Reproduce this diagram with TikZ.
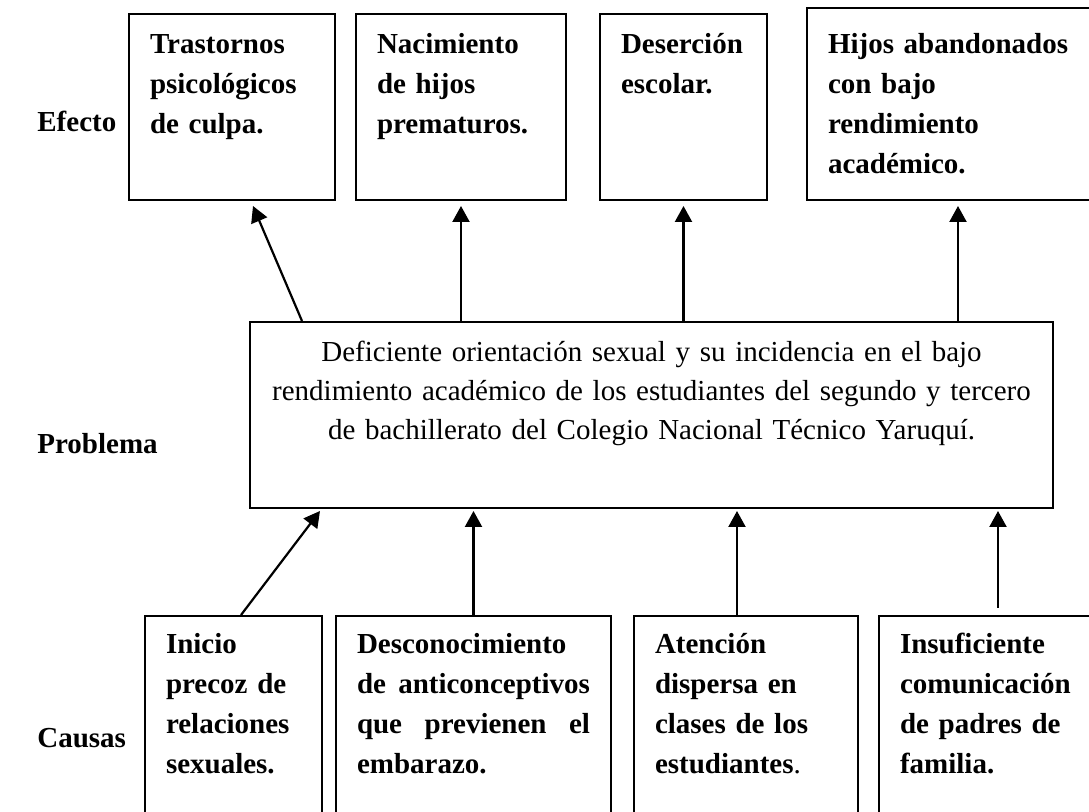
\documentclass[tikz,border=0pt]{standalone}
\usepackage{fontspec}
\setmainfont{Liberation Serif}
\usetikzlibrary{arrows.meta}
\usetikzlibrary{positioning}
\tikzset{effect node/.style={rectangle,draw,line width=1pt,anchor=north west,align=left,
              inner xsep=10.5pt,inner ysep=0pt,text height=20pt,text depth=73pt,
              font=\fontsize{14.5}{20}\selectfont\bfseries},
         problem node/.style={rectangle,draw,line width=1pt,anchor=north west,align=center,
              inner xsep=10pt,inner ysep=0pt,text height=20pt,text depth=73pt,
              font=\fontsize{14.5}{19.5}\selectfont},
         cause node/.style={rectangle,draw,line width=1pt,anchor=north west,align=left,
              inner xsep=10.5pt,inner ysep=0pt,text height=19pt,text depth=101pt,
              font=\fontsize{14.5}{20}\selectfont\bfseries},
         side label/.style={anchor=base west,inner sep=0pt,font=\fontsize{14.5}{20}\selectfont\bfseries},
         arr/.style={draw,line width=1.1pt,-{Triangle[length=8pt,width=8.5pt]}},
            }

\begin{document}
\begin{tikzpicture}[x=1pt,y=-1pt]
    \useasboundingbox (0,0) rectangle (544.5,406);
    \clip (0,0) rectangle (544.5,406);

    % efectos
    \node[effect node,text width=82pt] (t1) at (64,6.5) {Trastornos\\psicológicos\\de culpa.};
    \node[effect node,text width=84pt] (t2) [right=9.5pt of t1] {Nacimiento\\de hijos\\prematuros.};
    \node[effect node,text width=62.5pt] (t3) [right=16pt of t2] {Deserción\\escolar.};
    \node[effect node,text width=130pt,text height=23pt] (t4) [right=19pt of t3.south east,anchor=south west] {Hijos abandonados\\con bajo\\rendimiento\\académico.};

    % problema
    \node[problem node,text width=381.5pt] (m) at (124.5,160.5) {Deficiente orientación sexual y su incidencia en el bajo\\rendimiento académico de los estudiantes del segundo y tercero\\de bachillerato del Colegio Nacional Técnico Yaruquí.};

    % causas
    \node[cause node,text width=67.5pt] (b1) at (72,307.5) {Inicio\\precoz de\\relaciones\\sexuales.};
    \node[cause node,text width=116.5pt] (b2) [right=6pt of b1] {Desconocimiento\\de\hfill anticonceptivos\\que\hfill previenen\hfill el\\embarazo.};
    \node[cause node,text width=91pt] (b3) [right=10.5pt of b2] {Atención\\dispersa en\\clases de los\\estudiantes\textmd{.}};
    \node[cause node,text width=98pt] (b4) [right=9.5pt of b3] {Insuficiente\\comunicación\\de padres de\\familia.};

    \node[side label] (efecto) at (18.5,66) {Efecto};
    \node[side label] (problema) at (18.5,227) {Problema};
    \node[side label] (causas) at (18.5,374) {Causas};

    \path[every edge/.style={arr}]
    ([xshift=26.5pt]m.north west) edge ([xshift=10.5pt,yshift=-2.5pt]t1.south)
    (m.north -| t2.south) edge ([yshift=-2.5pt]t2.south)
    (m.north -| t3.south) edge ([yshift=-2.5pt]t3.south)
    (m.north -| t4.south) edge ([yshift=-2.5pt]t4.south)
    ([xshift=3.75pt]b1.north) edge ([xshift=35.5pt,yshift=-1pt]m.south west)
    (b2.north) edge ([yshift=-1pt]m.south -| b2.north)
    ([xshift=-4.5pt]b3.north) edge ([xshift=-4.5pt,yshift=-1pt]m.south -| b3.north)
    ([yshift=3.5pt]b4.north) edge ([yshift=-1pt]m.south -| b4.north);
\end{tikzpicture}
\end{document}
